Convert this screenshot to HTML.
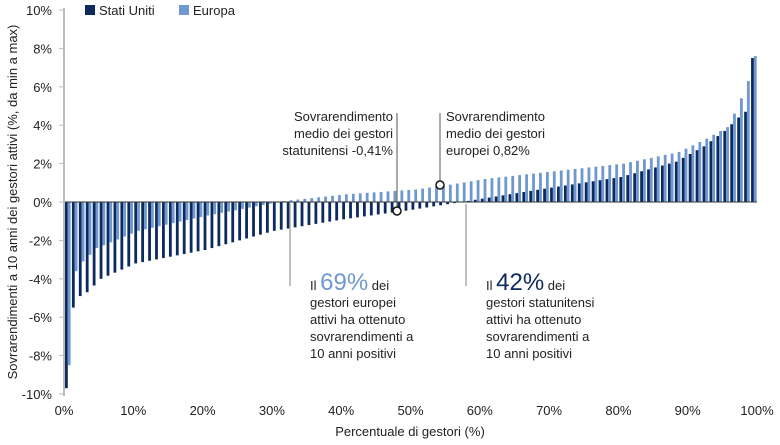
<!DOCTYPE html><html><head><meta charset="utf-8"><style>
body{margin:0;background:#fff;font-family:"Liberation Sans",sans-serif}
svg text{font-family:"Liberation Sans",sans-serif;fill:#222}
</style></head><body>
<svg id="s" width="780" height="440" xmlns="http://www.w3.org/2000/svg">
<g font-size="13" text-anchor="end" id="yl"></g>
<g font-size="13" text-anchor="middle" id="xl"></g>
<g id="bars"></g>
<line x1="64" y1="202" x2="757" y2="202" stroke="#333" stroke-width="1"/>
<line x1="64" y1="8" x2="64" y2="396" stroke="#bbb" stroke-width="2"/>
<rect x="85" y="5" width="10" height="10" fill="#0d2a5e"/><text x="99" y="15" font-size="13">Stati Uniti</text>
<rect x="179" y="5" width="10" height="10" fill="#6e98cf"/><text x="193" y="15" font-size="13">Europa</text>
<text transform="translate(17,202) rotate(-90)" font-size="13" text-anchor="middle">Sovrarendimenti a 10 anni dei gestori attivi (%, da min a max)</text>
<text x="410" y="436" font-size="13" text-anchor="middle">Percentuale di gestori (%)</text>
<line x1="397" y1="113" x2="397" y2="208" stroke="#555"/>
<circle cx="397" cy="211" r="4" fill="#fff" stroke="#111" stroke-width="1.5"/>
<line x1="440" y1="113" x2="440" y2="182" stroke="#555"/>
<circle cx="440" cy="185" r="4" fill="#fff" stroke="#111" stroke-width="1.5"/>
<g font-size="13" text-anchor="end"><text x="393" y="121">Sovrarendimento</text><text x="393" y="138">medio dei gestori</text><text x="393" y="155">statunitensi -0,41%</text></g>
<g font-size="13"><text x="446" y="121">Sovrarendimento</text><text x="446" y="138">medio dei gestori</text><text x="446" y="155">europei 0,82%</text></g>
<line x1="290" y1="204" x2="290" y2="286" stroke="#aaa" stroke-width="1.5"/>
<line x1="466" y1="204" x2="466" y2="286" stroke="#aaa" stroke-width="1.5"/>
<g font-size="13"><text x="310" y="290">Il <tspan font-size="24" fill="#6e98cf">69%</tspan> dei</text><text x="310" y="307">gestori europei</text><text x="310" y="324">attivi ha ottenuto</text><text x="310" y="341">sovrarendimenti a</text><text x="310" y="358">10 anni positivi</text></g>
<g font-size="13"><text x="486" y="290">Il <tspan font-size="24" fill="#0d2a5e">42%</tspan> dei</text><text x="486" y="307">gestori statunitensi</text><text x="486" y="324">attivi ha ottenuto</text><text x="486" y="341">sovrarendimenti a</text><text x="486" y="358">10 anni positivi</text></g>
</svg>
<script>
var NS="http://www.w3.org/2000/svg",yl=document.getElementById('yl'),xl=document.getElementById('xl'),b=document.getElementById('bars');
function el(p,t,a,tx){var e=document.createElementNS(NS,t);for(var k in a)e.setAttribute(k,a[k]);if(tx)e.textContent=tx;p.appendChild(e);}
function Y(v){return 202-v*19.2;}
for(var v=-10;v<=10;v+=2){el(yl,'text',{x:52,y:Y(v)+5},v+'%');el(b,'line',{x1:59,x2:64,y1:Y(v),y2:Y(v),stroke:'#bbb'});}
for(var p=0;p<=100;p+=10){el(xl,'text',{x:64+p*6.93,y:415},p+'%');}
var us=[[0,-9.7],[1,-5.5],[2,-4.9],[3,-4.7],[5,-4.0],[10,-3.2],[20,-2.5],[30,-1.5],[40,-0.9],[50,-0.4],[57,0],[70,0.75],[80,1.3],[88,2.1],[92,2.9],[95,3.7],[97,4.4],[98,4.7],[99,7.5]];
var eu=[[0,-8.5],[1,-3.6],[2,-3.1],[4,-2.4],[10,-1.5],[20,-0.7],[31,0.05],[40,0.4],[50,0.65],[55,0.9],[60,1.2],[70,1.6],[80,2.0],[88,2.6],[92,3.3],[95,3.9],[96,4.6],[97,5.4],[98,6.3],[99,7.6]];
function f(pts,i){for(var k=0;k<pts.length-1;k++){var a=pts[k],c=pts[k+1];if(i>=a[0]&&i<=c[0])return a[1]+(c[1]-a[1])*(i-a[0])/(c[0]-a[0]);}return pts[pts.length-1][1];}
for(var i=0;i<100;i++){var x=64+i*6.93+1;
[[f(us,i),'#0d2a5e',0],[f(eu,i),'#6e98cf',2.8]].forEach(function(d){var y=Y(d[0]);el(b,'rect',{x:x+d[2],y:Math.min(y,202),width:2.8,height:Math.abs(y-202),fill:d[1]});});}
</script>
</body></html>
